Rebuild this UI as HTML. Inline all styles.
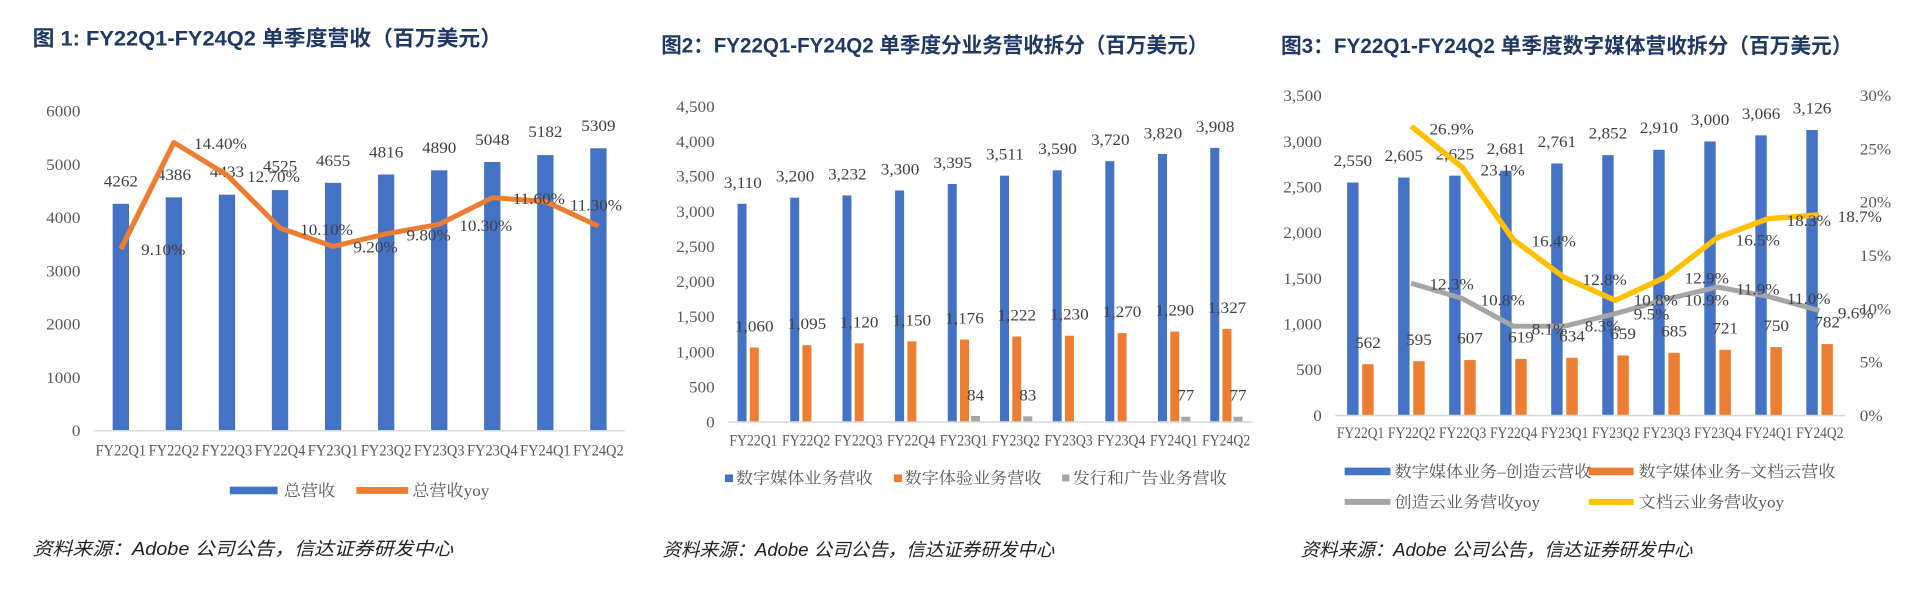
<!DOCTYPE html>
<html><head><meta charset="utf-8"><style>
html,body{margin:0;padding:0;background:#fff;}
svg{display:block}
.t{font-family:"Liberation Sans","Noto Sans CJK SC",sans-serif;font-weight:bold;fill:#1f3864;font-size:56px}
.n{font-family:"Liberation Serif","Noto Serif CJK SC",serif;fill:#404040;font-size:42px}
.ax{font-family:"Liberation Serif","Noto Serif CJK SC",serif;fill:#595959;font-size:42px}
.lg{font-family:"Liberation Serif","Noto Serif CJK SC",serif;fill:#595959;font-size:42px}
.src{font-family:"Liberation Sans","Noto Sans CJK SC",sans-serif;font-style:italic;fill:#222;font-size:48px}
</style></head><body>
<svg width="1912" height="594" viewBox="0 0 1912 594" xmlns="http://www.w3.org/2000/svg">
<rect width="1912" height="594" fill="#fff"/>

<!-- Panel 1 -->
<g transform="translate(0,0) scale(0.4082,0.3802)">
<text class="t" x="80" y="120" textLength="1150" lengthAdjust="spacingAndGlyphs">图 1: FY22Q1-FY24Q2 单季度营收（百万美元）</text>
<g class="ax" text-anchor="end">
<text x="197" y="307">6000</text><text x="197" y="447">5000</text><text x="197" y="587">4000</text><text x="197" y="727">3000</text><text x="197" y="867">2000</text><text x="197" y="1007">1000</text><text x="197" y="1147">0</text>
</g>
<g fill="#4472c4">
<rect x="276" y="536" width="40" height="597"/><rect x="406" y="519" width="40" height="614"/><rect x="536" y="512" width="40" height="621"/><rect x="666" y="500" width="40" height="633"/><rect x="796" y="481" width="40" height="652"/><rect x="926" y="459" width="40" height="674"/><rect x="1056" y="448" width="40" height="685"/><rect x="1186" y="426" width="40" height="707"/><rect x="1316" y="408" width="40" height="725"/><rect x="1446" y="390" width="40" height="743"/>
</g>
<line x1="230" y1="1133" x2="1530" y2="1133" stroke="#d9d9d9" stroke-width="4"/>
<g class="n" text-anchor="middle">
<text x="296" y="490">4262</text><text x="426" y="473">4386</text><text x="556" y="466">4433</text><text x="686" y="451">4525</text><text x="816" y="437">4655</text><text x="946" y="414">4816</text><text x="1076" y="402">4890</text><text x="1206" y="382">5048</text><text x="1336" y="361">5182</text><text x="1466" y="344">5309</text>
</g>
<polyline fill="none" stroke="#ed7d31" stroke-width="13" stroke-linejoin="round" points="296,655 426,375 556,460 686,600 816,648 946,615 1076,590 1206,520 1336,530 1466,595"/>
<g class="n" text-anchor="middle">
<text x="400" y="671">9.10%</text><text x="540" y="392">14.40%</text><text x="670" y="479">12.70%</text><text x="800" y="618">10.10%</text><text x="920" y="664">9.20%</text><text x="1050" y="632">9.80%</text><text x="1190" y="607">10.30%</text><text x="1320" y="536">11.60%</text><text x="1460" y="554">11.30%</text>
</g>
<g class="ax" text-anchor="middle">
<text x="296" y="1198" textLength="124" lengthAdjust="spacingAndGlyphs">FY22Q1</text><text x="426" y="1198" textLength="124" lengthAdjust="spacingAndGlyphs">FY22Q2</text><text x="556" y="1198" textLength="124" lengthAdjust="spacingAndGlyphs">FY22Q3</text><text x="686" y="1198" textLength="124" lengthAdjust="spacingAndGlyphs">FY22Q4</text><text x="816" y="1198" textLength="124" lengthAdjust="spacingAndGlyphs">FY23Q1</text><text x="946" y="1198" textLength="124" lengthAdjust="spacingAndGlyphs">FY23Q2</text><text x="1076" y="1198" textLength="124" lengthAdjust="spacingAndGlyphs">FY23Q3</text><text x="1206" y="1198" textLength="124" lengthAdjust="spacingAndGlyphs">FY23Q4</text><text x="1336" y="1198" textLength="124" lengthAdjust="spacingAndGlyphs">FY24Q1</text><text x="1466" y="1198" textLength="124" lengthAdjust="spacingAndGlyphs">FY24Q2</text>
</g>
<rect x="563" y="1280" width="117" height="20" fill="#4472c4"/>
<text class="lg" x="695" y="1305">总营收</text>
<line x1="873" y1="1290" x2="1000" y2="1290" stroke="#ed7d31" stroke-width="18"/>
<text class="lg" x="1010" y="1305">总营收yoy</text>
<text class="src" x="80" y="1460" textLength="1030" lengthAdjust="spacingAndGlyphs">资料来源：Adobe 公司公告，信达证券研发中心</text>
</g>

<!-- Panel 2 -->
<g transform="translate(640,0) scale(0.4082,0.3802)">
<text class="t" x="52" y="138" textLength="1340" lengthAdjust="spacingAndGlyphs">图2：FY22Q1-FY24Q2 单季度分业务营收拆分（百万美元）</text>
<g class="ax" text-anchor="end">
<text x="183" y="294">4,500</text><text x="183" y="386">4,000</text><text x="183" y="478">3,500</text><text x="183" y="571">3,000</text><text x="183" y="663">2,500</text><text x="183" y="755">2,000</text><text x="183" y="847">1,500</text><text x="183" y="940">1,000</text><text x="183" y="1032">500</text><text x="183" y="1124">0</text>
</g>
<g fill="#4472c4">
<rect x="239" y="536" width="22" height="574"/><rect x="368" y="520" width="22" height="590"/><rect x="496" y="514" width="22" height="596"/><rect x="625" y="501" width="22" height="609"/><rect x="754" y="484" width="22" height="626"/><rect x="882" y="462" width="22" height="648"/><rect x="1011" y="448" width="22" height="662"/><rect x="1140" y="424" width="22" height="686"/><rect x="1269" y="405" width="22" height="705"/><rect x="1397" y="389" width="22" height="721"/>
</g>
<g fill="#ed7d31">
<rect x="269" y="914" width="22" height="196"/><rect x="398" y="908" width="22" height="202"/><rect x="526" y="903" width="22" height="207"/><rect x="655" y="898" width="22" height="212"/><rect x="784" y="893" width="22" height="217"/><rect x="912" y="885" width="22" height="225"/><rect x="1041" y="883" width="22" height="227"/><rect x="1170" y="876" width="22" height="234"/><rect x="1299" y="872" width="22" height="238"/><rect x="1427" y="865" width="22" height="245"/>
</g>
<g fill="#a5a5a5">
<rect x="811" y="1094" width="22" height="16"/><rect x="939" y="1095" width="22" height="15"/><rect x="1326" y="1096" width="22" height="14"/><rect x="1454" y="1096" width="22" height="14"/>
</g>
<line x1="215" y1="1110" x2="1500" y2="1110" stroke="#d9d9d9" stroke-width="4"/>
<g class="n" text-anchor="middle">
<text x="252" y="494">3,110</text><text x="380" y="477">3,200</text><text x="508" y="472">3,232</text><text x="637" y="459">3,300</text><text x="766" y="442">3,395</text><text x="894" y="420">3,511</text><text x="1023" y="405">3,590</text><text x="1152" y="382">3,720</text><text x="1281" y="364">3,820</text><text x="1409" y="347">3,908</text>
<text x="280" y="872">1,060</text><text x="409" y="866">1,095</text><text x="537" y="861">1,120</text><text x="666" y="856">1,150</text><text x="795" y="851">1,176</text><text x="923" y="843">1,222</text><text x="1052" y="841">1,230</text><text x="1181" y="834">1,270</text><text x="1310" y="830">1,290</text><text x="1438" y="823">1,327</text>
<text x="822" y="1054">84</text><text x="950" y="1054">83</text><text x="1337" y="1054">77</text><text x="1465" y="1054">77</text>
</g>
<g class="ax" text-anchor="middle">
<text x="278" y="1172" textLength="118" lengthAdjust="spacingAndGlyphs">FY22Q1</text><text x="407" y="1172" textLength="118" lengthAdjust="spacingAndGlyphs">FY22Q2</text><text x="535" y="1172" textLength="118" lengthAdjust="spacingAndGlyphs">FY22Q3</text><text x="664" y="1172" textLength="118" lengthAdjust="spacingAndGlyphs">FY22Q4</text><text x="793" y="1172" textLength="118" lengthAdjust="spacingAndGlyphs">FY23Q1</text><text x="921" y="1172" textLength="118" lengthAdjust="spacingAndGlyphs">FY23Q2</text><text x="1050" y="1172" textLength="118" lengthAdjust="spacingAndGlyphs">FY23Q3</text><text x="1179" y="1172" textLength="118" lengthAdjust="spacingAndGlyphs">FY23Q4</text><text x="1308" y="1172" textLength="118" lengthAdjust="spacingAndGlyphs">FY24Q1</text><text x="1436" y="1172" textLength="118" lengthAdjust="spacingAndGlyphs">FY24Q2</text>
</g>
<rect x="208" y="1248" width="20" height="20" fill="#4472c4"/>
<text class="lg" x="235" y="1272">数字媒体业务营收</text>
<rect x="622" y="1248" width="20" height="20" fill="#ed7d31"/>
<text class="lg" x="648" y="1272">数字体验业务营收</text>
<rect x="1034" y="1248" width="18" height="18" fill="#a5a5a5"/>
<text class="lg" x="1060" y="1272">发行和广告业务营收</text>
<text class="src" x="55" y="1462" textLength="960" lengthAdjust="spacingAndGlyphs">资料来源：Adobe 公司公告，信达证券研发中心</text>
</g>

<!-- Panel 3 -->
<g transform="translate(1272,0) scale(0.4082,0.3802)">
<text class="t" x="22" y="140" textLength="1400" lengthAdjust="spacingAndGlyphs">图3：FY22Q1-FY24Q2 单季度数字媒体营收拆分（百万美元）</text>
<g class="ax" text-anchor="end">
<text x="122" y="266">3,500</text><text x="122" y="386">3,000</text><text x="122" y="506">2,500</text><text x="122" y="626">2,000</text><text x="122" y="747">1,500</text><text x="122" y="867">1,000</text><text x="122" y="987">500</text><text x="122" y="1107">0</text>
</g>
<g class="ax" text-anchor="start">
<text x="1440" y="266">30%</text><text x="1440" y="406">25%</text><text x="1440" y="546">20%</text><text x="1440" y="687">15%</text><text x="1440" y="827">10%</text><text x="1440" y="967">5%</text><text x="1440" y="1107">0%</text>
</g>
<g fill="#4472c4">
<rect x="184" y="480" width="28" height="613"/><rect x="309" y="467" width="28" height="626"/><rect x="434" y="462" width="28" height="631"/><rect x="559" y="449" width="28" height="644"/><rect x="684" y="430" width="28" height="663"/><rect x="809" y="408" width="28" height="685"/><rect x="934" y="394" width="28" height="699"/><rect x="1059" y="372" width="28" height="721"/><rect x="1184" y="356" width="28" height="737"/><rect x="1309" y="342" width="28" height="751"/>
</g>
<g fill="#ed7d31">
<rect x="221" y="958" width="28" height="135"/><rect x="346" y="950" width="28" height="143"/><rect x="471" y="947" width="28" height="146"/><rect x="596" y="944" width="28" height="149"/><rect x="721" y="941" width="28" height="152"/><rect x="846" y="935" width="28" height="158"/><rect x="971" y="928" width="28" height="165"/><rect x="1096" y="920" width="28" height="173"/><rect x="1221" y="913" width="28" height="180"/><rect x="1346" y="905" width="28" height="188"/>
</g>
<line x1="155" y1="1093" x2="1405" y2="1093" stroke="#d9d9d9" stroke-width="4"/>
<g class="n" text-anchor="middle">
<text x="198" y="437">2,550</text><text x="323" y="424">2,605</text><text x="448" y="419">2,625</text><text x="573" y="405">2,681</text><text x="698" y="386">2,761</text><text x="823" y="364">2,852</text><text x="948" y="350">2,910</text><text x="1073" y="329">3,000</text><text x="1198" y="313">3,066</text><text x="1323" y="298">3,126</text>
<text x="235" y="915">562</text><text x="360" y="907">595</text><text x="485" y="904">607</text><text x="610" y="901">619</text><text x="735" y="898">634</text><text x="860" y="891">659</text><text x="985" y="885">685</text><text x="1110" y="877">721</text><text x="1235" y="870">750</text><text x="1360" y="862">782</text>
</g>
<polyline fill="none" stroke="#a5a5a5" stroke-width="13" stroke-linejoin="round" points="341,745 466,785 591,858 716,858 841,825 966,787 1091,755 1216,780 1341,817"/>
<polyline fill="none" stroke="#ffc000" stroke-width="14" stroke-linejoin="round" points="341,332 466,440 591,630 716,730 841,790 966,728 1091,625 1216,575 1341,565"/>
<g class="n" text-anchor="middle">
<text x="440" y="354">26.9%</text><text x="565" y="461">23.1%</text><text x="690" y="649">16.4%</text><text x="815" y="749">12.8%</text><text x="940" y="804">10.8%</text><text x="1065" y="746">12.9%</text><text x="1190" y="646">16.5%</text><text x="1315" y="594">18.3%</text><text x="1440" y="584">18.7%</text>
<text x="440" y="762">12.3%</text><text x="565" y="804">10.8%</text><text x="680" y="880">8.1%</text><text x="810" y="872">8.3%</text><text x="930" y="840">9.5%</text><text x="1065" y="804">10.9%</text><text x="1190" y="774">11.9%</text><text x="1315" y="799">11.0%</text><text x="1430" y="838">9.6%</text>
</g>
<g class="ax" text-anchor="middle">
<text x="217" y="1152" textLength="116" lengthAdjust="spacingAndGlyphs">FY22Q1</text><text x="342" y="1152" textLength="116" lengthAdjust="spacingAndGlyphs">FY22Q2</text><text x="467" y="1152" textLength="116" lengthAdjust="spacingAndGlyphs">FY22Q3</text><text x="592" y="1152" textLength="116" lengthAdjust="spacingAndGlyphs">FY22Q4</text><text x="717" y="1152" textLength="116" lengthAdjust="spacingAndGlyphs">FY23Q1</text><text x="842" y="1152" textLength="116" lengthAdjust="spacingAndGlyphs">FY23Q2</text><text x="967" y="1152" textLength="116" lengthAdjust="spacingAndGlyphs">FY23Q3</text><text x="1092" y="1152" textLength="116" lengthAdjust="spacingAndGlyphs">FY23Q4</text><text x="1217" y="1152" textLength="116" lengthAdjust="spacingAndGlyphs">FY24Q1</text><text x="1342" y="1152" textLength="116" lengthAdjust="spacingAndGlyphs">FY24Q2</text>
</g>
<rect x="178" y="1230" width="112" height="20" fill="#4472c4"/>
<text class="lg" x="300" y="1255">数字媒体业务–创造云营收</text>
<rect x="776" y="1230" width="110" height="20" fill="#ed7d31"/>
<text class="lg" x="898" y="1255">数字媒体业务–文档云营收</text>
<line x1="178" y1="1320" x2="290" y2="1320" stroke="#a5a5a5" stroke-width="16"/>
<text class="lg" x="300" y="1335">创造云业务营收yoy</text>
<line x1="776" y1="1320" x2="886" y2="1320" stroke="#ffc000" stroke-width="16"/>
<text class="lg" x="898" y="1335">文档云业务营收yoy</text>
<text class="src" x="70" y="1462" textLength="960" lengthAdjust="spacingAndGlyphs">资料来源：Adobe 公司公告，信达证券研发中心</text>
</g>
</svg>
</body></html>
